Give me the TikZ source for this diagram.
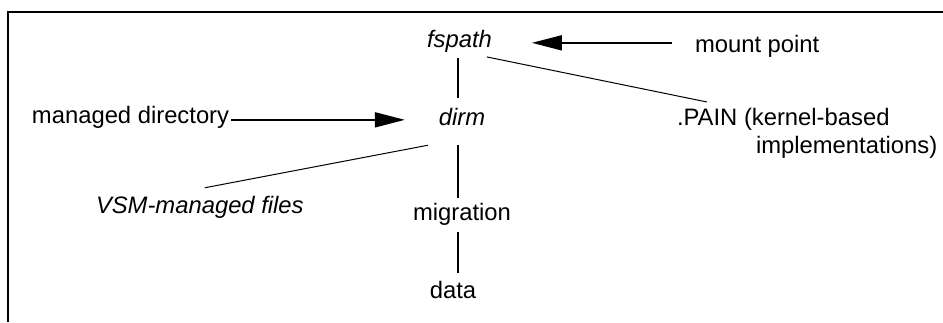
\documentclass[tikz,border=0pt]{standalone}
\usepackage{fontspec}
\setmainfont{Liberation Sans}
\usetikzlibrary{arrows.meta,calc}
\begin{document}
\begin{tikzpicture}[x=0.5pt,y=-0.5pt,
  lbl/.style={inner sep=0pt, outer sep=0pt, font=\fontsize{11.9}{14}\selectfont},
  itl/.style={inner sep=0pt, outer sep=0pt, font=\fontsize{11.9}{14}\selectfont\itshape},
  frameline/.style={line width=1.2pt},
  link/.style={line width=0.9pt},
  thinlink/.style={line width=0.5pt},
  arr/.style={line width=0.9pt, -{Triangle[length=15pt,width=7.5pt]}}]
\useasboundingbox (0,0) rectangle (943,322);
% frame
\draw[frameline] (943,12) -- (8,12) -- (8,322);
% nodes
\node[itl, anchor=base] (fspath) at (459.5,47) {fspath};
\node[itl, anchor=base] (dirm) at (462,125) {dirm};
\node[lbl, anchor=base] (migration) at (462,220) {migration};
\node[lbl, anchor=base] (data) at (453,298) {data};
\node[lbl, anchor=base west] (mount) at (695,52) {mount point};
\node[lbl, anchor=base west] (mgd) at (32,123) {managed directory};
\node[itl, anchor=base west] (vsm) at (96,213) {VSM-managed files};
\node[lbl, anchor=north west, align=left] (pain) at (677,108.7) {.PAIN (kernel-based\\\hspace*{39.5pt}implementations)};
\coordinate (spine) at (458,0);
% vertical links
\draw[link, shorten <=3pt, shorten >=5pt] (fspath.south -| spine) -- (dirm.north -| spine);
\draw[link, shorten <=10pt, shorten >=2.5pt] (dirm.south -| spine) -- (migration.north -| spine);
\draw[link, shorten <=3.5pt, shorten >=4pt] (migration.south -| spine) -- (data.north -| spine);
% diagonal links
\draw[thinlink] ($(fspath.south east)+(-5,5)$) -- ($(pain.north west)+(30,-6.7)$);
\draw[thinlink] ($(dirm.south west)+(-11,20)$) -- ($(vsm.north)+(5,-8)$);
% arrows
\draw[arr] ($(mount.west)+(-23,-3)$) -- ($(mount.west -| fspath.east)+(40,-3)$);
\draw[arr] ($(mgd.east)+(2,3)$) -- ($(mgd.east -| dirm.west)+(-34,3)$);
\end{tikzpicture}
\end{document}
